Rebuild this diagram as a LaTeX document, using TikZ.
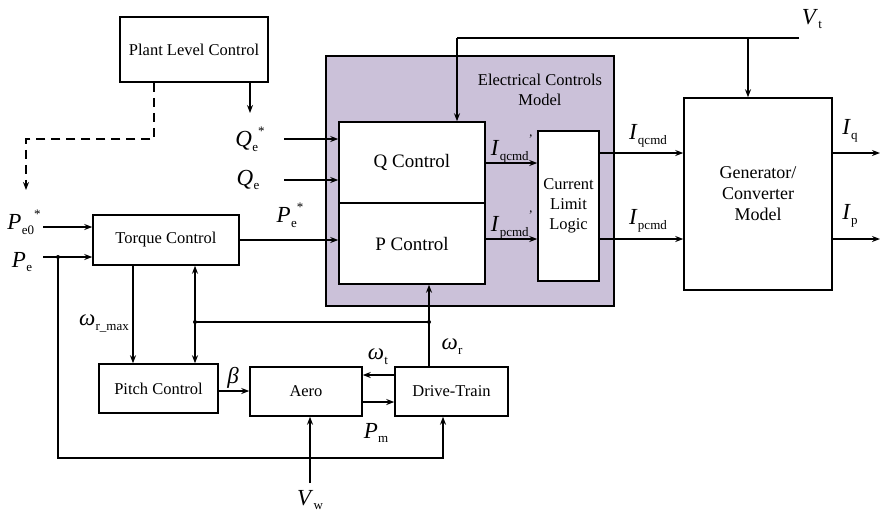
\documentclass[tikz,border=0pt]{standalone}
\usepackage{fontspec}
\setmainfont{Liberation Serif}
\usetikzlibrary{arrows.meta,calc}
\definecolor{ecmfill}{RGB}{203,193,217}
\newcommand{\subx}[1]{\raisebox{-0.45ex}{\fontsize{13}{13}\selectfont\upshape #1}}
\newcommand{\supx}[1]{\raisebox{1.1ex}{\fontsize{13}{13}\selectfont\upshape #1}}
\newcommand{\varx}[3]{\textit{#1}\kern0.3pt\subx{#2}\supx{#3}}
\tikzset{
  box/.style={draw, line width=1.5pt, fill=white, inner sep=0pt, align=center, font=\fontsize{16.5}{19}\selectfont},
  conn/.style={line width=1.5pt},
  arr/.style={line width=1.5pt, -{Stealth[length=8pt,width=6pt]}},
  sym/.style={inner sep=0pt, font=\fontsize{23}{25}\selectfont},
  dotmark/.style={fill=black}
}
\begin{document}
\begin{tikzpicture}[x=1pt,y=-1pt]
\useasboundingbox (0,0) rectangle (884,515);
% Electrical controls model
\node[draw, line width=1.5pt, fill=ecmfill, minimum width=288pt, minimum height=250pt, inner sep=0pt] (ecm) at (470,181) {};
\node[align=center, font=\fontsize{16.5}{20}\selectfont] (ecml) at (540,90) {Electrical Controls\\Model};
% boxes
\node[box, minimum width=148pt, minimum height=65pt] (plant) at (194,49.5) {Plant Level Control};
\node[box, minimum width=146pt, minimum height=50pt] (torque) at (166,240) {Torque Control};
\node[box, minimum width=119pt, minimum height=49pt] (pitch) at (158.5,388.5) {Pitch Control};
\node[box, minimum width=112pt, minimum height=49pt] (aero) at (306,391.5) {Aero};
\node[box, minimum width=113pt, minimum height=49pt] (drive) at (451.5,391.5) {Drive-Train};
\node[box, minimum width=146pt, minimum height=81pt, font=\fontsize{19}{22}\selectfont] (qctrl) at (412,162.5) {Q Control};
\node[box, minimum width=146pt, minimum height=81pt, font=\fontsize{19}{22}\selectfont] (pctrl) at (412,243.5) {P Control};
\node[box, minimum width=61pt, minimum height=150pt, font=\fontsize{16.5}{20}\selectfont] (cll) at (568.5,206) {Current\\Limit\\Logic};
\node[box, minimum width=148pt, minimum height=192pt, font=\fontsize{18}{21}\selectfont] (gen) at (758,194) {Generator/\\Converter\\Model};
% symbol labels
\node[sym] (qes) at (250,139) {\varx{Q}{e}{*}};
\node[sym] (qe) at (248,180) {\varx{Q}{e}{}};
\node[sym] (pe0s) at (24,222) {\varx{P}{e0}{*}};
\node[sym] (pe) at (22,262) {\varx{P}{e}{}};
\node[sym] (pes) at (290,215) {\varx{P}{e}{*}};
\node[sym] (wrmax) at (104,323) {\varx{ω}{r\_max}{}};
\node[sym] (beta) at (233,378) {\textit{β}};
\node[sym] (wt) at (378,356) {\varx{ω}{t}{}};
\node[sym] (wr) at (452,346) {\varx{ω}{r}{}};
\node[sym] (pm) at (376,433) {\varx{P}{m}{}};
\node[sym] (vw) at (310,500) {\varx{V}{w}{}};
\node[sym] (vt) at (812,19) {\varx{V}{t}{}};
\node[sym] (iqcp) at (512,149) {\varx{I}{qcmd}{'}};
\node[sym] (ipcp) at (512,225) {\varx{I}{pcmd}{'}};
\node[sym] (iqc) at (648,136) {\varx{I}{qcmd}{}};
\node[sym] (ipc) at (648,221) {\varx{I}{pcmd}{}};
\node[sym] (iq) at (850,131) {\varx{I}{q}{}};
\node[sym] (ip) at (850,216) {\varx{I}{p}{}};
% coordinates
\coordinate (vtend) at (799,38);
\coordinate (iqout) at (880,153);
\coordinate (ipout) at (880,239);
\coordinate (pdash) at (26,190);
\coordinate (qesarr) at (250,113);
\coordinate (jpe) at (58,257);
\coordinate (jw1) at (195,322);
\coordinate (jw2) at (429,322);
% dashed link
\draw[line width=1.5pt, dash pattern=on 9pt off 6pt] (plant.south -| 154,0) -- (154,139) -- (26,139) -- (26,182);
\draw[arr] (26,181) -- (pdash);
% Plant -> Qe*
\draw[arr] (plant.south -| qesarr) -- (qesarr);
% inputs to Q / P control
\draw[arr] (284,139) -- (qctrl.west |- 0,139);
\draw[arr] (284,180) -- (qctrl.west |- 0,180);
\draw[arr] (torque.east) -- (pctrl.west |- torque.east);
% inputs to torque
\draw[arr] (43,227) -- (torque.west |- 0,227);
\draw[arr] (43,257) -- (torque.west |- jpe);
% Pe feedback to drive-train
\draw[arr] (jpe) -- (58,458) -- (443,458) -- (drive.south -| 443,0);
% omega r max
\draw[arr] (torque.south -| 133,0) -- (pitch.north -| 133,0);
% speed feedback
\draw[arr] (jw1) -- (torque.south -| jw1);
\draw[arr] (jw1) -- (pitch.north -| jw1);
\draw[conn] (jw1) -- (jw2);
\draw[arr] (drive.north -| jw2) -- (pctrl.south -| jw2);
% junction dots
\fill (jpe) circle (2pt);
\fill (jw1) circle (2pt);
\fill (jw2) circle (2pt);
% pitch / aero / drive
\draw[arr] (pitch.east |- 0,391) -- (aero.west |- 0,391);
\draw[arr] (drive.west |- 0,375) -- (aero.east |- 0,375);
\draw[arr] (aero.east |- 0,402) -- (drive.west |- 0,402);
\draw[arr] (310,483) -- (aero.south -| 310,0);
% Vt
\draw[conn] (vtend) -- (457,38);
\draw[arr] (457,38) -- (qctrl.north -| 457,0);
\draw[arr] (748,38) -- (gen.north -| 748,0);
% currents
\draw[arr] (qctrl.east |- 0,163) -- (cll.west |- 0,163);
\draw[arr] (pctrl.east |- 0,239) -- (cll.west |- 0,239);
\draw[arr] (cll.east |- 0,153) -- (gen.west |- 0,153);
\draw[arr] (cll.east |- 0,239) -- (gen.west |- 0,239);
\draw[arr] (gen.east |- iqout) -- (iqout);
\draw[arr] (gen.east |- ipout) -- (ipout);
\end{tikzpicture}
\end{document}
